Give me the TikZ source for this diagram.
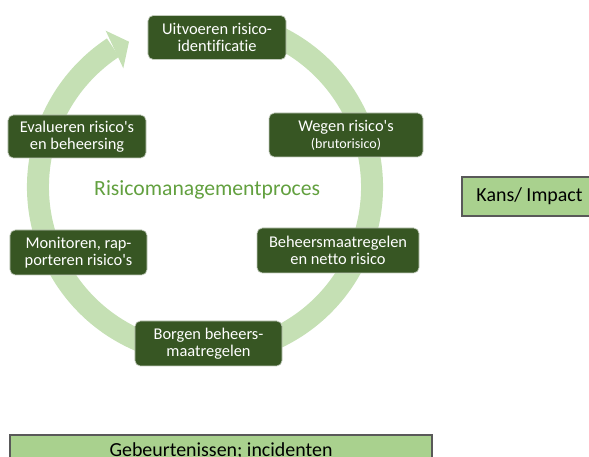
\documentclass[tikz,border=0pt]{standalone}
\usepackage{fontspec}
\setmainfont{Carlito}[Ligatures={CommonOff}]
\definecolor{dk}{HTML}{375623}
\definecolor{ringc}{HTML}{C5E0B4}
\definecolor{lg}{HTML}{A9D18E}
\definecolor{tg}{HTML}{62A03F}
\begin{document}
\begin{tikzpicture}[x=0.03cm,y=0.03cm,
  stepbox/.style={draw=white!70!dk, line width=0.6pt, fill=dk, rounded corners=4.5pt,
    text=white, inner sep=0pt, align=center, font=\fontsize{14}{14.5}\selectfont},
  plainbox/.style={draw=black!65, line width=0.9pt, fill=lg, inner sep=0pt,
    font=\fontsize{17}{20}\selectfont}]
\useasboundingbox (0,0) rectangle (589,457);
% circular arrow
\draw[ringc, line width=0.66cm] (205,270) ++(68:5.01cm)
  arc[start angle=68, end angle=-236.6, radius=5.01cm];
\fill[ringc] (105.7,426.3) -- (129,415.3) -- (123.3,388.7) -- cycle;
% steps
\node[stepbox, minimum width=4.14cm, minimum height=1.32cm] (uit) at (217,419.5)
  {Uitvoeren risico-\\identificatie};
\node[stepbox, minimum width=4.62cm, minimum height=1.32cm] (weg) at (346,322)
  {Wegen risico\textquotesingle s\\{\fontsize{12}{13.6}\selectfont (brutorisico)}};
\node[stepbox, minimum width=4.86cm, minimum height=1.35cm] (beh) at (338,206.5)
  {Beheersmaatregelen\\en netto risico};
\node[stepbox, minimum width=4.41cm, minimum height=1.35cm] (bor) at (208.5,113.5)
  {Borgen beheers-\\maatregelen};
\node[stepbox, minimum width=4.11cm, minimum height=1.35cm] (mon) at (78.5,204.5)
  {Monitoren, rap-\\porteren risico\textquotesingle s};
\node[stepbox, minimum width=4.14cm, minimum height=1.29cm] (eva) at (77,320.5)
  {Evalueren risico\textquotesingle s\\en beheersing};
% title
\node[anchor=base west, text=tg, font=\fontsize{18.5}{22}\selectfont, inner sep=0pt]
  (title) at (94,261) {Risicomanagementproces};
% side boxes
\node[plainbox, minimum width=4.05cm, minimum height=1.17cm] (kans) at (529.5,260.5)
  {\raisebox{-0.05cm}{Kans/ Impact}};
\node[plainbox, minimum width=12.66cm, minimum height=0.96cm] (geb) at (221,6)
  {\raisebox{0.11cm}{Gebeurtenissen; incidenten}};
\end{tikzpicture}
\end{document}
